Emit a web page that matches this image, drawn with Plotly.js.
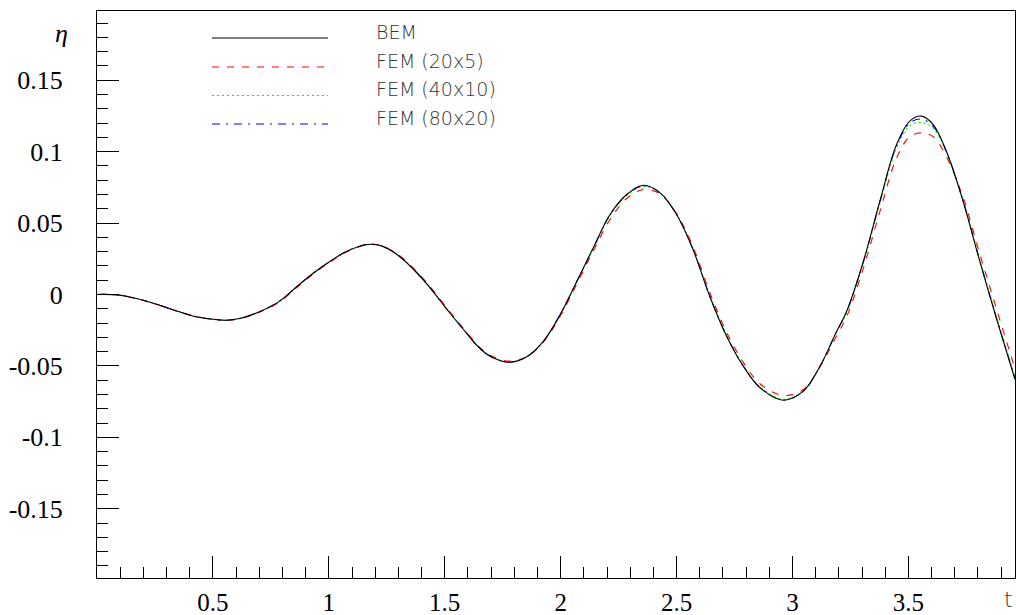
<!DOCTYPE html>
<html>
<head>
<meta charset="utf-8">
<script src="https://cdn.plot.ly/plotly-3.0.1.min.js"></script>
<style>html,body{margin:0;padding:0;background:#fff;}#chart{width:1016px;height:615px;}</style>
</head>
<body>
<div id="chart"></div>
<script>
// time samples (t)
const tValues = [0, 0.09, 0.175, 0.26, 0.347, 0.433, 0.52, 0.56, 0.62, 0.69, 0.78, 0.864, 0.935, 1.006, 1.078, 1.165, 1.222, 1.294, 1.366, 1.437, 1.51, 1.581, 1.653, 1.696, 1.775, 1.854, 1.926, 1.998, 2.07, 2.141, 2.213, 2.285, 2.357, 2.429, 2.5, 2.571, 2.643, 2.716, 2.788, 2.86, 2.961, 3.047, 3.119, 3.19, 3.234, 3.306, 3.377, 3.449, 3.506, 3.556, 3.607, 3.664, 3.736, 3.808, 3.879, 3.96];

// BEM
const etaBEM = [0, -0.0003, -0.003, -0.007, -0.0117, -0.0158, -0.0177, -0.018, -0.0166, -0.0128, -0.0055, 0.0058, 0.0152, 0.0233, 0.0303, 0.035, 0.0343, 0.028, 0.0175, 0.0047, -0.0105, -0.0245, -0.038, -0.0432, -0.0474, -0.0436, -0.0327, -0.014, 0.0093, 0.0327, 0.056, 0.070, 0.0765, 0.0712, 0.056, 0.0315, -0.0012, -0.0292, -0.0502, -0.0653, -0.074, -0.0677, -0.0502, -0.026, -0.0117, 0.0233, 0.0653, 0.105, 0.1214, 0.1249, 0.119, 0.1003, 0.0653, 0.0233, -0.0163, -0.0595];

// FEM (20x5)
const etaFEM20 = [0, -0.0003, -0.003, -0.007, -0.0116, -0.0156, -0.0176, -0.018, -0.0168, -0.0131, -0.006, 0.0052, 0.0146, 0.0228, 0.0299, 0.0348, 0.0344, 0.0285, 0.0182, 0.0055, -0.0097, -0.0238, -0.0372, -0.0425, -0.0466, -0.0436, -0.0333, -0.0152, 0.0075, 0.0305, 0.0525, 0.0672, 0.0735, 0.0704, 0.0566, 0.0335, 0.0015, -0.0265, -0.0475, -0.0625, -0.0707, -0.0665, -0.0505, -0.029, -0.0155, 0.0185, 0.058, 0.0955, 0.1105, 0.1132, 0.1105, 0.0965, 0.068, 0.0285, -0.0095, -0.052];

// FEM (40x10)
const etaFEM40 = [0, -0.0003, -0.003, -0.007, -0.0117, -0.0157, -0.0177, -0.018, -0.0167, -0.0129, -0.0056, 0.0056, 0.015, 0.0231, 0.0302, 0.0349, 0.0343, 0.0282, 0.0177, 0.0049, -0.0103, -0.0243, -0.0378, -0.043, -0.0472, -0.0436, -0.0329, -0.0143, 0.0088, 0.032, 0.0552, 0.0693, 0.0757, 0.0712, 0.0563, 0.032, -0.0005, -0.0285, -0.0497, -0.0648, -0.0733, -0.0676, -0.0503, -0.0265, -0.0125, 0.0222, 0.0638, 0.1025, 0.1182, 0.1205, 0.1165, 0.0995, 0.0662, 0.0248, -0.0148, -0.0575];

// FEM (80x20)
const etaFEM80 = [0, -0.0003, -0.003, -0.007, -0.0117, -0.0158, -0.0177, -0.018, -0.0166, -0.0128, -0.0055, 0.0058, 0.0152, 0.0233, 0.0303, 0.035, 0.0343, 0.028, 0.0175, 0.0047, -0.0105, -0.0245, -0.038, -0.0432, -0.0474, -0.0436, -0.0327, -0.0141, 0.0092, 0.0325, 0.0558, 0.0698, 0.0763, 0.0712, 0.056, 0.0317, -0.0010, -0.029, -0.0501, -0.0652, -0.0738, -0.0677, -0.0502, -0.0262, -0.012, 0.0228, 0.0647, 0.1042, 0.1200, 0.1228, 0.1178, 0.1000, 0.0657, 0.0238, -0.0157, -0.0585];

const seriesNames = ['BEM', 'FEM (20x5)', 'FEM (40x10)', 'FEM (80x20)'];
const xTickVals = [0.5, 1, 1.5, 2, 2.5, 3, 3.5];
const xTickText = ['0.5', '1', '1.5', '2', '2.5', '3', '3.5'];
const yTickVals = [-0.15, -0.1, -0.05, 0, 0.05, 0.1, 0.15];
const yTickText = ['-0.15', '-0.1', '-0.05', '0', '0.05', '0.1', '0.15'];

const styles = [
  {color: '#000000', dash: 'solid'},
  {color: '#ff0000', dash: '7px,8px'},
  {color: '#00ee00', dash: '2px,3px'},
  {color: '#0000ff', dash: '8px,6px,2px,6px'}
];
const ys = [etaBEM, etaFEM20, etaFEM40, etaFEM80];

const traces = [3, 2, 1, 0].map(i => ({
  x: tValues, y: ys[i], type: 'scatter', mode: 'lines', name: seriesNames[i],
  showlegend: false,
  line: {color: styles[i].color, dash: styles[i].dash, width: 1.1, shape: 'spline', smoothing: 1}
}));

// plot area in px
const L = 97, R = 1015, T = 11, B = 578, W = 1016, H = 615;
const px2x = p => (p - L) / (R - L);
const px2y = p => (B - p) / (B - T);

const legendFont = {family: 'DejaVu Sans, Liberation Sans, sans-serif', size: 19, color: '#333', weight: 200};
const legendRowsY = [38, 67, 95.5, 124];
const shapes = [];
const annotations = [];
seriesNames.forEach((n, i) => {
  shapes.push({type: 'line', xref: 'paper', yref: 'paper',
    x0: px2x(212), x1: px2x(328), y0: px2y(legendRowsY[i]), y1: px2y(legendRowsY[i]),
    line: {color: styles[i].color, width: 1.1, dash: styles[i].dash}});
  annotations.push({xref: 'paper', yref: 'paper', x: px2x(374), y: px2y(legendRowsY[i] - 6),
    xanchor: 'left', yanchor: 'middle', text: n, showarrow: false, font: legendFont});
});
annotations.push({xref: 'paper', yref: 'paper', x: px2x(61), y: px2y(33), xanchor: 'center', yanchor: 'middle',
  text: '<i>η</i>', showarrow: false, font: {family: 'Liberation Serif, Times New Roman, serif', size: 26, color: '#000'}});
annotations.push({xref: 'paper', yref: 'paper', x: px2x(1008), y: px2y(599), xanchor: 'center', yanchor: 'middle',
  text: 't', showarrow: false, font: {family: 'DejaVu Sans, Liberation Sans, sans-serif', size: 22, color: '#333', weight: 200}});

const layout = {
  width: W, height: H,
  margin: {l: L, r: W - R, t: T, b: H - B, pad: 0},
  paper_bgcolor: '#fff', plot_bgcolor: '#fff',
  showlegend: false,
  xaxis: {
    range: [0, 3.96], showgrid: false, zeroline: false,
    showline: true, mirror: true, linecolor: '#000', linewidth: 1,
    ticks: 'inside', ticklen: 22, tickwidth: 1, tickcolor: '#000',
    tickmode: 'array', tickvals: xTickVals, ticktext: xTickText,
    ticklabelstandoff: 2,
    tickfont: {family: 'Liberation Serif, Times New Roman, serif', size: 25, color: '#000'},
    minor: {tickmode: 'linear', tick0: 0, dtick: 0.1, ticks: 'inside', ticklen: 11, tickwidth: 1, tickcolor: '#000', showgrid: false}
  },
  yaxis: {
    range: [-0.1985, 0.1985], showgrid: false, zeroline: false,
    showline: true, mirror: true, linecolor: '#000', linewidth: 1,
    ticks: 'inside', ticklen: 22, tickwidth: 1, tickcolor: '#000',
    tickmode: 'array', tickvals: yTickVals, ticktext: yTickText,
    ticklabelstandoff: 28,
    tickfont: {family: 'Liberation Serif, Times New Roman, serif', size: 26, color: '#000'},
    minor: {tickmode: 'linear', tick0: 0, dtick: 0.01, ticks: 'inside', ticklen: 11, tickwidth: 1, tickcolor: '#000', showgrid: false}
  },
  shapes: shapes,
  annotations: annotations
};

Plotly.newPlot('chart', traces, layout, {staticPlot: true, displayModeBar: false});
</script>
</body>
</html>
